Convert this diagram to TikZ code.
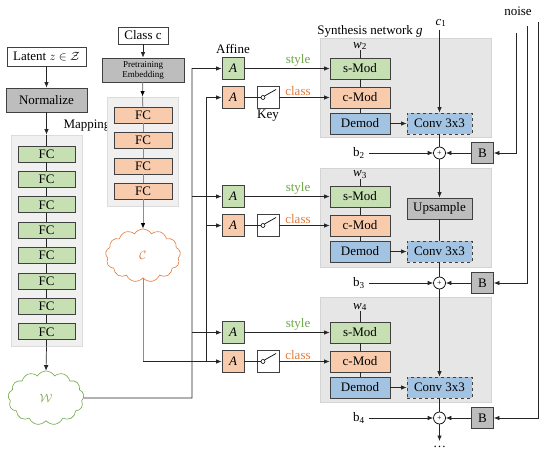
\documentclass[tikz,border=0pt]{standalone}
\usepackage{fontspec}
\setmainfont{Liberation Serif}
\usetikzlibrary{shapes.symbols,arrows.meta}
\definecolor{gfill}{HTML}{C6E0B4}
\definecolor{ofill}{HTML}{F8CBAD}
\definecolor{bfill}{HTML}{A3C3E3}
\definecolor{kfill}{HTML}{BDBDBD}
\definecolor{bd}{HTML}{404040}
\definecolor{synfill}{HTML}{E6E6E6}
\definecolor{synbd}{HTML}{D4D4D4}
\definecolor{mapfill}{HTML}{F0F0F0}
\definecolor{mapbd}{HTML}{DCDCDC}
\definecolor{stylec}{HTML}{6FA848}
\definecolor{classc}{HTML}{E07B39}
\definecolor{lgray}{HTML}{8C8C8C}
\begin{document}
\begin{tikzpicture}[x=1pt,y=-1pt,font=\fontsize{13}{15}\selectfont,
  box/.style={draw=bd,line width=0.8pt,inner sep=0pt,minimum height=21pt},
  gbox/.style={box,fill=gfill},
  obox/.style={box,fill=ofill},
  bbox/.style={box,fill=bfill},
  kbox/.style={box,fill=kfill},
  wbox/.style={box,fill=white},
  fcg/.style={gbox,minimum width=57pt,minimum height=16pt},
  fco/.style={obox,minimum width=58pt,minimum height=16pt},
  abox/.style={box,minimum width=22pt,minimum height=22pt},
  modbox/.style={minimum width=60pt},
  convbox/.style={box,fill=bfill,dashed,minimum width=65pt},
  synbg/.style={draw=synbd,fill=synfill,line width=0.8pt,inner sep=0pt},
  mapbg/.style={draw=mapbd,fill=mapfill,line width=0.8pt,inner sep=0pt},
  plus/.style={circle,draw=black,fill=white,line width=0.7pt,inner sep=0pt,minimum size=12pt,font=\fontsize{8}{8}\selectfont},
  ln/.style={line width=0.7pt,draw=black!85},
  arr/.style={ln,-{Latex[length=5.5pt,width=4.5pt]}},
  gln/.style={line width=1pt,draw=lgray},
  garr/.style={gln,-{Latex[length=5.5pt,width=4.5pt,color=black]}},
  lbl/.style={inner sep=0pt}
]
\useasboundingbox (0,0) rectangle (546,452);

% ---------------- left column: latent / mapping ----------------
\node[wbox,minimum width=79pt,minimum height=19pt] (latent) at (46.5,56.5) {Latent $z\in\mathcal{Z}$};
\node[kbox,minimum width=81pt,minimum height=24pt] (norm) at (46.5,100) {Normalize};
\node[mapbg,minimum width=71pt,minimum height=211pt] (mapbg) at (46.5,240.5) {};
\node[lbl] (mapping) at (87,126) {Mapping};
\foreach \i in {1,...,8}{
  \pgfmathsetmacro\yy{154+25.4*(\i-1)}
  \node[fcg] (fcg\i) at (46.5,\yy) {FC};
}
\node[cloud,cloud puffs=13,cloud puff arc=120,aspect=1.4,draw=stylec,line width=0.6pt,
      minimum width=76pt,minimum height=54pt,inner sep=0pt] (W) at (46,398) {\textcolor{stylec}{\large$\mathcal{W}$}};
\draw[arr] (latent) -- (norm);
\draw[arr] (norm) -- (mapbg.north);
\draw[ln] (mapbg.north) -- (fcg1);
\foreach \i/\j in {1/2,2/3,3/4,4/5,5/6,6/7,7/8}{\draw[ln] (fcg\i) -- (fcg\j);}
\draw[ln] (fcg8) -- (mapbg.south);
\draw[arr] (mapbg.south) -- (W.north);

% ---------------- class column ----------------
\node[wbox,minimum width=50pt,minimum height=17pt] (classc) at (143,35.5) {Class c};
\node[kbox,minimum width=82pt,minimum height=24pt,align=center,font=\fontsize{9}{10}\selectfont] (pre) at (143,70) {Pretraining\\Embedding};
\node[mapbg,minimum width=71pt,minimum height=109pt] (orbg) at (142.5,151.5) {};
\foreach \i/\yy in {1/115,2/140,3/166,4/191}{
  \node[fco] (fco\i) at (143,\yy) {FC};
}
\node[cloud,cloud puffs=13,cloud puff arc=120,aspect=1.4,draw=classc,line width=0.6pt,
      minimum width=75pt,minimum height=53pt,inner sep=0pt] (C) at (143,255.5) {\textcolor{classc}{\large$\mathcal{C}$}};
\draw[arr] (classc) -- (pre);
\draw[garr] (pre) -- (orbg.north);
\draw[gln] (orbg.north) -- (fco1);
\foreach \i/\j in {1/2,2/3,3/4}{\draw[gln] (fco\i) -- (fco\j);}
\draw[garr] (fco4) -- (C.north);

% ---------------- synthesis rows ----------------
\node[lbl] (synlbl) at (370,31) {Synthesis network \textit{g}};
\node[lbl] (affine) at (233,49) {Affine};
\node[lbl] (keylbl) at (268,116) {Key};

\foreach \r/\S/\bgT/\bgB/\wy/\Py/\nx/\nt/\k in {1/58/38/137/46/153/516/33/2,2/186/168/267/175/283/527/26/3,3/322/297/402/307/418/538/22/4}{
  \pgfmathsetmacro\hh{\bgB-\bgT}
  \pgfmathsetmacro\cy{(\bgT+\bgB)/2}
  \pgfmathsetmacro\sy{\S+10.5}
  \pgfmathsetmacro\my{\S+39.5}
  \pgfmathsetmacro\dy{\S+65.5}
  \node[synbg,minimum width=171pt,minimum height=\hh pt] (bg\r) at (405.5,\cy) {};
  \node[gbox,modbox] (smod\r) at (360,\sy) {s-Mod};
  \node[obox,modbox] (cmod\r) at (360,\my) {c-Mod};
  \node[bbox,modbox] (demod\r) at (360,\dy) {Demod};
  \node[convbox] (conv\r) at (439.5,\dy) {Conv 3x3};
  \node[lbl] (w\r) at (360,\wy) {\textit{w}\textsubscript{\k}};
  \draw[ln] (w\r.south) -- (smod\r);
  \draw[ln] (smod\r) -- (cmod\r);
  \draw[ln] (cmod\r) -- (demod\r);
  \draw[arr] (demod\r) -- (conv\r);
  % affine / key
  \node[gbox,abox] (sa\r) at (233,\sy) {\textit{A}};
  \node[obox,abox] (ca\r) at (233,\my) {\textit{A}};
  \node[wbox,abox] (key\r) at (268,\my) {};
  \draw[line width=1.2pt,draw=black!85] (ca\r.east) -- (261,\my);
  \draw[line width=0.6pt] (263,\my) circle (2pt);
  \draw[line width=0.7pt] (264.5,\my-1.5) -- (276,\my-8);
  \draw[arr] (sa\r) -- node[lbl,pos=0.63,above=2pt,text=stylec]{style} (smod\r);
  \draw[arr] (key\r) -- node[lbl,pos=0.37,above=2pt,text=classc]{class} (cmod\r);
  % noise / bias
  \node[plus] (p\r) at (439.5,\Py) {+};
  \node[kbox,minimum width=22pt,minimum height=21pt] (B\r) at (482.5,\Py) {B};
  \node[lbl] (b\r) at (359,\Py) {b\textsubscript{\k}};
  \coordinate (bs\r) at (369,\Py);
  \draw[arr] (bs\r) -- (p\r);
  \draw[arr] (B\r) -- (p\r);
  \coordinate (nt\r) at (\nx,\nt);
  \draw[arr] (nt\r) |- (B\r.east);
  \draw[ln] (conv\r) -- (p\r);
}
\node[lbl] (noise) at (518,11) {noise};
\node[lbl] (c1) at (441,23) {\textit{c}\textsubscript{1}};
\coordinate (c1s) at (439.5,30);
\draw[arr] (c1s) -- (conv1);

\node[kbox,minimum width=65pt] (ups) at (439.5,208.5) {Upsample};
\draw[arr] (p1) -- (ups);
\draw[ln] (ups) -- (conv2);
\draw[arr] (p2) -- (conv3);
\coordinate (pend) at (439.5,441);
\draw[arr] (p3) -- (pend);
\node[lbl] (dots) at (439.5,447) {\dots};

% ---------------- buses ----------------
\coordinate (wbus) at (192,398);
\coordinate (cbus) at (206,0);
\draw[arr] (W.east) -- (wbus) |- (sa1.west);
\draw[arr] (wbus |- sa2.west) -- (sa2.west);
\draw[arr] (wbus |- sa3.west) -- (sa3.west);
\draw[gln] (C.south) -- (C.south |- ca3.west);
\draw[arr] (C.south |- ca3.west) -- (ca3.west);
\draw[arr] (cbus |- ca3.west) |- (ca1.west);
\draw[arr] (cbus |- ca2.west) -- (ca2.west);
\end{tikzpicture}
\end{document}
